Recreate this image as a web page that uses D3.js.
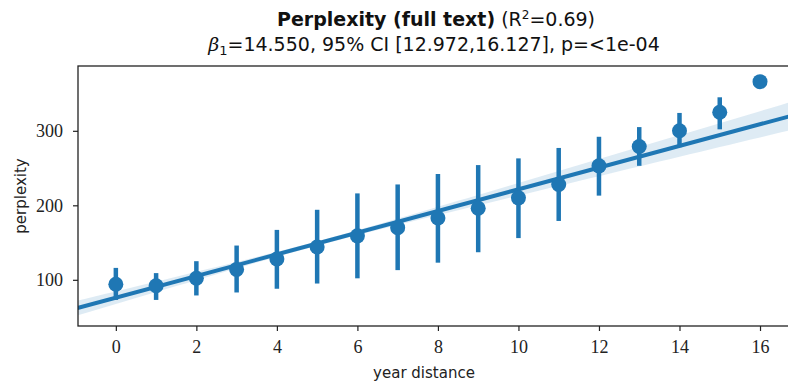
<!DOCTYPE html>
<html lang="en">
<head>
<meta charset="UTF-8">
<title>Perplexity (full text)</title>
<style>
  body { margin: 0; background: #fff; }
  .tick text { font-family: "Liberation Serif", serif; font-size: 18px; fill: #222; }
  .axis-label { font-family: "DejaVu Sans", sans-serif; font-size: 15px; fill: #222; }
  .title { font-family: "DejaVu Sans", sans-serif; font-size: 19px; fill: #111; }
</style>
</head>
<body>
<div id="chart"></div>
<script src="https://d3js.org/d3.v7.min.js"></script>
<script>
// year distance values
var years = [0, 1, 2, 3, 4, 5, 6, 7, 8, 9, 10, 11, 12, 13, 14, 15, 16];
// mean perplexity per year distance
var means = [94, 92, 102, 114, 128, 144, 159, 170, 183, 196, 210, 228, 253, 279, 300, 325, 366];
// 95% CI of each mean (none for the last one)
var ciLow  = [73, 73, 79, 83, 88, 95, 102, 113, 123, 137, 156, 179, 213, 253, 278, 302, null];
var ciHigh = [116, 109, 125, 146, 167, 194, 216, 228, 242, 254, 263, 277, 292, 305, 324, 345, null];

// fitted regression and slope CI from the title
var intercept = 76;
var slope = 14.55;
var slopeCI = [12.972, 16.127];
var xCenter = 5;      // where the band is narrowest
var bandMin = 3;      // band half width there
var xTicks = [0, 2, 4, 6, 8, 10, 12, 14, 16];
var yTicks = [100, 200, 300];

var W = 788, H = 385;
var margin = { top: 66, right: -1, bottom: 59, left: 78 };
var blue = "#1f77b4";

var svg = d3.select("#chart").append("svg")
    .attr("width", W).attr("height", H);

var x = d3.scaleLinear().domain([-0.94, 16.72]).range([margin.left, W - margin.right]);
var y = d3.scaleLinear().domain([38, 387]).range([H - margin.bottom, margin.top]);

var plot = svg.append("g");
svg.append("clipPath").attr("id", "clip").append("rect")
    .attr("x", margin.left).attr("y", margin.top)
    .attr("width", W - margin.right - margin.left)
    .attr("height", H - margin.bottom - margin.top);
plot.attr("clip-path", "url(#clip)");

// regression band
var halfSlope = (slopeCI[1] - slopeCI[0]) / 2;
var bandX = d3.range(-1, 17.01, 0.25);
var band = bandX.map(function (t) {
    var fit = intercept + slope * t;
    var h = Math.sqrt(bandMin * bandMin + Math.pow(halfSlope * (t - xCenter), 2));
    return { t: t, lo: fit - h, hi: fit + h };
});
plot.append("path")
    .datum(band)
    .attr("fill", blue).attr("fill-opacity", 0.15)
    .attr("d", d3.area()
        .x(function (d) { return x(d.t); })
        .y0(function (d) { return y(d.lo); })
        .y1(function (d) { return y(d.hi); }));

// regression line
plot.append("line")
    .attr("x1", x(-1)).attr("y1", y(intercept - slope))
    .attr("x2", x(17)).attr("y2", y(intercept + slope * 17))
    .attr("stroke", blue).attr("stroke-width", 4);

// error bars
var pts = years.map(function (d, i) {
    return { x: d, m: means[i], lo: ciLow[i], hi: ciHigh[i] };
});
plot.selectAll(".err")
    .data(pts.filter(function (d) { return d.lo !== null; }))
    .enter().append("line")
    .attr("class", "err")
    .attr("x1", function (d) { return x(d.x); })
    .attr("x2", function (d) { return x(d.x); })
    .attr("y1", function (d) { return y(d.lo); })
    .attr("y2", function (d) { return y(d.hi); })
    .attr("stroke", blue).attr("stroke-width", 4.5);

// points
plot.selectAll(".pt")
    .data(pts)
    .enter().append("circle")
    .attr("class", "pt")
    .attr("cx", function (d) { return x(d.x); })
    .attr("cy", function (d) { return y(d.m); })
    .attr("r", 7.5)
    .attr("fill", blue);

// axes
var xAxis = svg.append("g")
    .attr("transform", "translate(0," + (H - margin.bottom) + ")")
    .call(d3.axisBottom(x).tickValues(xTicks).tickSize(5).tickPadding(9));
var yAxis = svg.append("g")
    .attr("transform", "translate(" + margin.left + ",0)")
    .call(d3.axisLeft(y).tickValues(yTicks).tickSize(5).tickPadding(10));
[xAxis, yAxis].forEach(function (a) {
    a.select(".domain").remove();
    a.selectAll(".tick line").attr("stroke", "#222").attr("stroke-width", 1.2);
});

// frame
svg.append("rect")
    .attr("x", margin.left).attr("y", margin.top)
    .attr("width", W - margin.right - margin.left)
    .attr("height", H - margin.bottom - margin.top)
    .attr("fill", "none").attr("stroke", "#222").attr("stroke-width", 1.3);

// labels
svg.append("text").attr("class", "axis-label")
    .attr("x", 424).attr("y", 378).attr("text-anchor", "middle")
    .text("year distance");
svg.append("text").attr("class", "axis-label")
    .attr("transform", "translate(26," + ((margin.top + H - margin.bottom) / 2) + ") rotate(-90)")
    .attr("text-anchor", "middle")
    .text("perplexity");

// title
var t1 = svg.append("text").attr("class", "title")
    .attr("x", 436).attr("y", 26).attr("text-anchor", "middle");
t1.append("tspan").attr("font-weight", "bold").text("Perplexity (full text)");
t1.append("tspan").text(" (R");
t1.append("tspan").attr("font-size", 12).attr("dy", -7).text("2");
t1.append("tspan").attr("dy", 7).text("=0.69)");

var t2 = svg.append("text").attr("class", "title")
    .attr("x", 434).attr("y", 51).attr("text-anchor", "middle");
t2.append("tspan").attr("font-family", "DejaVu Serif, serif").attr("font-style", "italic").text("β");
t2.append("tspan").attr("font-size", 13).attr("dy", 4).text("1");
t2.append("tspan").attr("dy", -4).text("=14.550, 95% CI [12.972,16.127], p=<1e-04");
</script>
</body>
</html>
